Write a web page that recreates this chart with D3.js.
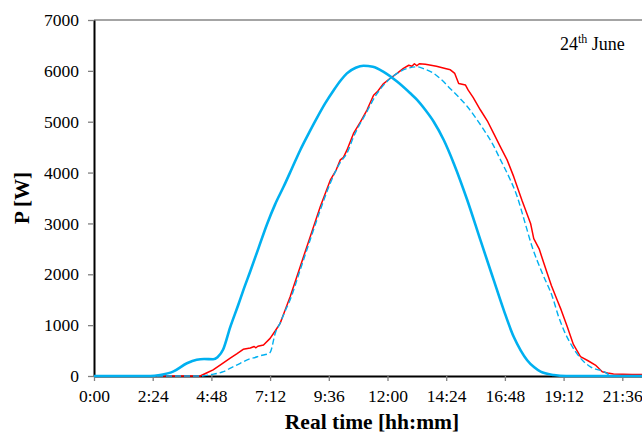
<!DOCTYPE html>
<html>
<head>
<meta charset="utf-8">
<script src="https://cdn.jsdelivr.net/npm/d3@7"></script>
<style>
  html, body { margin: 0; padding: 0; background: #fff; overflow: hidden; }
  svg { display: block; }
  text { font-family: 'Liberation Serif', 'Times New Roman', serif; }
</style>
</head>
<body>
<svg id="chart" width="642" height="434"></svg>
<script>
// ---- Data (time in decimal hours, power in W) ----
const xTickValues = [0, 2.4, 4.8, 7.2, 9.6, 12, 14.4, 16.8, 19.2, 21.6];
const yTickValues = [0, 1000, 2000, 3000, 4000, 5000, 6000, 7000];

const simTime = [0, 2.3, 2.7, 3.23, 3.8, 4.2, 4.5, 4.87, 5.05, 5.28, 5.57, 5.9, 6.1, 6.39, 6.73, 7.07, 7.4, 7.75, 8.1, 8.43, 8.8, 9.11, 9.45, 9.8, 10.1, 10.34, 10.7, 11.02, 11.4, 11.84, 12.39, 12.93, 13.21, 13.55, 13.89, 14.3, 14.71, 15.26, 15.8, 16.34, 16.75, 17.16, 17.45, 17.71, 18.0, 18.26, 18.8, 19.3, 24];
const simPower = [0, 0, 20, 85, 250, 320, 335, 330, 370, 520, 960, 1400, 1680, 2060, 2520, 2980, 3370, 3720, 4090, 4440, 4790, 5070, 5360, 5620, 5820, 5950, 6060, 6100, 6080, 5980, 5790, 5560, 5430, 5230, 5000, 4640, 4180, 3460, 2670, 1890, 1300, 770, 500, 310, 170, 85, 20, 0, 0];

const measTime = [0, 4.34, 4.6, 4.87, 5.2, 5.57, 5.85, 6.1, 6.39, 6.55, 6.62, 6.7, 6.93, 7.2, 7.4, 7.61, 7.8, 8.02, 8.43, 8.84, 9.25, 9.66, 9.9, 10.07, 10.2, 10.34, 10.61, 10.9, 11.16, 11.43, 11.6, 11.84, 12.1, 12.39, 12.65, 12.87, 13.0, 13.1, 13.2, 13.3, 13.55, 14.0, 14.4, 14.57, 14.75, 14.91, 15.19, 15.3, 15.5, 15.8, 16.1, 16.34, 16.6, 16.89, 17.16, 17.5, 17.85, 17.98, 18.2, 18.39, 18.53, 18.7, 18.94, 19.1, 19.35, 19.6, 19.89, 20.2, 20.5, 20.78, 21.0, 21.24, 22, 24];
const measPower = [0, 0, 60, 120, 230, 350, 440, 525, 550, 580, 555, 585, 610, 740, 880, 1035, 1280, 1560, 2150, 2740, 3330, 3850, 4050, 4250, 4300, 4440, 4770, 5000, 5230, 5520, 5600, 5750, 5850, 5950, 6050, 6110, 6090, 6140, 6100, 6140, 6130, 6090, 6040, 6020, 5950, 5750, 5720, 5620, 5480, 5230, 5000, 4770, 4520, 4250, 3920, 3450, 3000, 2700, 2500, 2220, 2020, 1780, 1490, 1300, 970, 620, 380, 300, 215, 85, 60, 40, 30, 30];

const shiftTime = [0, 4.34, 4.8, 5.29, 5.6, 5.98, 6.39, 6.52, 6.8, 7.14, 7.22, 7.41, 7.61, 7.8, 8.02, 8.43, 8.84, 9.25, 9.66, 10.07, 10.34, 10.61, 11.16, 11.5, 11.84, 12.0, 12.39, 12.53, 12.9, 13.21, 13.5, 13.89, 14.2, 14.57, 14.9, 15.26, 15.6, 15.94, 16.3, 16.62, 17.0, 17.3, 17.6, 17.9, 18.33, 18.74, 19.0, 19.21, 19.48, 19.89, 20.3, 20.85, 21.2, 24];
const shiftPower = [0, 0, 30, 85, 160, 250, 340, 355, 400, 440, 480, 840, 1040, 1260, 1500, 2085, 2680, 3260, 3790, 4200, 4380, 4700, 5200, 5500, 5720, 5800, 5950, 5990, 6060, 6080, 6040, 5950, 5830, 5650, 5490, 5300, 5080, 4840, 4560, 4250, 3880, 3530, 3050, 2560, 2020, 1560, 1160, 900, 640, 350, 180, 85, 0, 0];

const dateMain = "24";
const dateSup = "th";
const dateRest = " June";

// ---- Layout ----
const FONT = "'Liberation Serif', 'Times New Roman', serif";
const svg = d3.select("#chart");
const x = d3.scaleLinear().domain([0, 24]).range([94, 681]);
const y = d3.scaleLinear().domain([0, 7000]).range([376, 20]);

const fmt = v => {
  const totalMin = Math.round(v * 60);
  const h = Math.floor(totalMin / 60), m = totalMin % 60;
  return h + ":" + String(m).padStart(2, "0");
};

// top frame line
svg.append("line")
  .attr("x1", x(0)).attr("x2", x(24))
  .attr("y1", y(7000)).attr("y2", y(7000))
  .attr("stroke", "#868686").attr("stroke-width", 1.5);

// axes
const xAxis = svg.append("g")
  .attr("transform", `translate(0,${y(0)})`)
  .call(d3.axisBottom(x).tickValues(xTickValues).tickFormat(fmt).tickSize(5).tickSizeOuter(0).tickPadding(9));
const yAxis = svg.append("g")
  .attr("transform", `translate(${x(0)},0)`)
  .call(d3.axisLeft(y).tickValues(yTickValues).tickFormat(d3.format("d")).tickSize(6).tickSizeOuter(0).tickPadding(9));

[xAxis, yAxis].forEach(g => {
  g.attr("font-family", FONT).attr("font-size", 17.5);
  g.select(".domain").attr("stroke", "#000").attr("stroke-width", 2);
  g.selectAll(".tick line").attr("stroke", "#7f7f7f").attr("stroke-width", 1.3);
  g.selectAll(".tick text")
    .attr("fill", "#000")
    .attr("font-family", FONT)
    .style("font-family", FONT)
    .style("font-size", "17.5px");
});

// series
const mk = (t, p) => t.map((d, i) => ({ t: d, p: p[i] }));
const lineSmooth = d3.line().x(d => x(d.t)).y(d => y(d.p)).curve(d3.curveMonotoneX);
const lineRaw = d3.line().x(d => x(d.t)).y(d => y(d.p));

svg.append("path").datum(mk(measTime, measPower))
  .attr("d", lineRaw).attr("fill", "none")
  .attr("stroke", "#FF0000").attr("stroke-width", 1.5).attr("stroke-linejoin", "round");

svg.append("path").datum(mk(shiftTime, shiftPower))
  .attr("d", lineSmooth).attr("fill", "none")
  .attr("stroke", "#00B0F0").attr("stroke-width", 1.4).attr("stroke-dasharray", "6,3");

svg.append("path").datum(mk(simTime, simPower))
  .attr("d", lineSmooth).attr("fill", "none")
  .attr("stroke", "#00B0F0").attr("stroke-width", 2.6).attr("stroke-linejoin", "round");

// titles
svg.append("text")
  .attr("x", 372).attr("y", 429)
  .attr("text-anchor", "middle")
  .style("font-family", FONT)
  .style("font-size", "21.5px").style("font-weight", "bold")
  .text("Real time [hh:mm]");

svg.append("text")
  .attr("transform", "translate(29,198) rotate(-90)")
  .attr("text-anchor", "middle")
  .style("font-family", FONT)
  .style("font-size", "21px").style("font-weight", "bold")
  .text("P [W]");

const dt = svg.append("text")
  .attr("x", 560).attr("y", 50)
  .style("font-family", FONT)
  .style("font-size", "18px");
dt.append("tspan").text(dateMain);
dt.append("tspan").attr("dy", -7).style("font-size", "12px").text(dateSup);
dt.append("tspan").attr("dy", 7).text(dateRest);
</script>
</body>
</html>
